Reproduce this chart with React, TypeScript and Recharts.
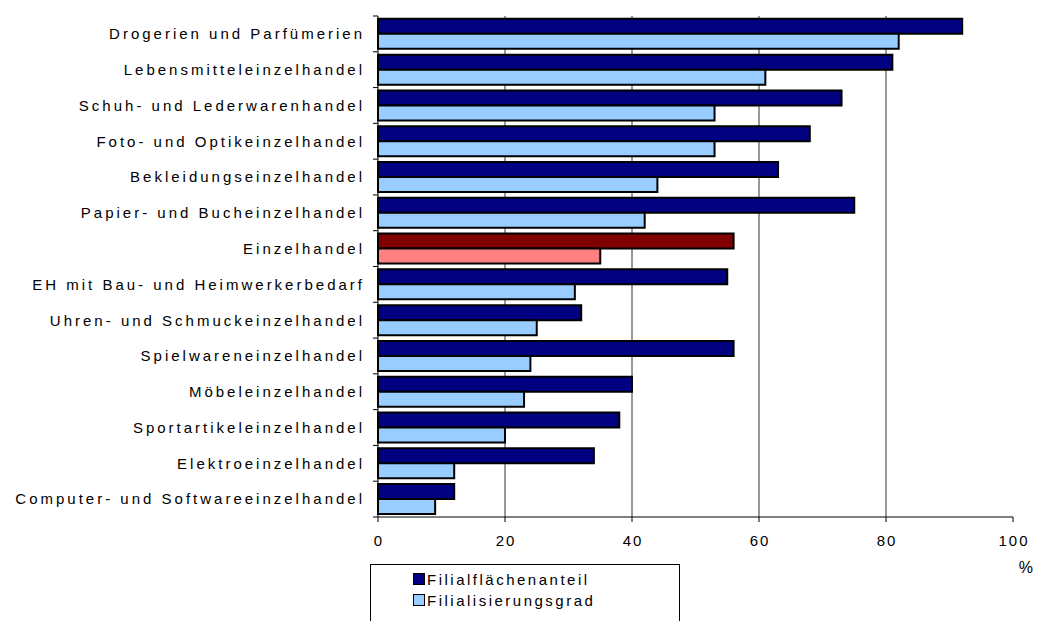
import React from 'react';
import { BarChart, Bar, XAxis, YAxis, CartesianGrid, Legend, Cell } from 'recharts';

const categories = [
  'Drogerien und Parfümerien',
  'Lebensmitteleinzelhandel',
  'Schuh- und Lederwarenhandel',
  'Foto- und Optikeinzelhandel',
  'Bekleidungseinzelhandel',
  'Papier- und Bucheinzelhandel',
  'Einzelhandel',
  'EH mit Bau- und Heimwerkerbedarf',
  'Uhren- und Schmuckeinzelhandel',
  'Spielwareneinzelhandel',
  'Möbeleinzelhandel',
  'Sportartikeleinzelhandel',
  'Elektroeinzelhandel',
  'Computer- und Softwareeinzelhandel',
];

const filialflaechenanteil = [92, 81, 73, 68, 63, 75, 56, 55, 32, 56, 40, 38, 34, 12];
const filialisierungsgrad = [82, 61, 53, 53, 44, 42, 35, 31, 25, 24, 23, 20, 12, 9];

const seriesNames = ['Filialflächenanteil', 'Filialisierungsgrad'];
const highlighted = ['Einzelhandel'];
const xTicks = [0, 20, 40, 60, 80, 100];
const gridTicks = [20, 40, 60, 80];
const unitLabel = '%';

const FONT = '"Liberation Sans", Arial, sans-serif';
const DARK = '#000080';
const LIGHT = '#99CCFF';
const DARK_HL = '#800000';
const LIGHT_HL = '#FF8080';

const rows = categories.map((c, i) => ({
  name: c,
  a: filialflaechenanteil[i],
  b: filialisierungsgrad[i],
}));

const YTick = (props: any) => {
  const { x, y, payload, index } = props;
  const axisX = x + 13;
  const half = payload && typeof payload.offset === 'number' && payload.offset > 0 ? payload.offset : 500 / 28;
  return (
    <g>
      <line x1={axisX - 5} x2={axisX} y1={y - half} y2={y - half} stroke="#000" strokeWidth={1} />
      {index === categories.length - 1 && (
        <line x1={axisX - 5} x2={axisX} y1={y + half} y2={y + half} stroke="#000" strokeWidth={1} />
      )}
      <text
        x={x}
        y={y}
        dy="0.355em"
        textAnchor="end"
        fontSize={15}
        fontFamily={FONT}
        letterSpacing={3}
        fill="#000"
      >
        {payload.value}
      </text>
    </g>
  );
};

const XTick = (props: any) => {
  const { x, y, payload } = props;
  return (
    <text
      x={x + 1}
      y={y}
      dy="0.71em"
      textAnchor="middle"
      fontSize={15}
      fontFamily={FONT}
      letterSpacing={2}
      fill="#000"
    >
      {payload.value}
    </text>
  );
};

const LegendBox = () => (
  <div
    style={{
      position: 'relative',
      width: 310,
      height: 70,
      boxSizing: 'border-box',
      border: '1px solid #000',
      background: '#fff',
      fontFamily: FONT,
      fontSize: 15,
      letterSpacing: 2.5,
      color: '#000',
    }}
  >
    {seriesNames.map((n, i) => (
      <div
        key={n}
        style={{
          position: 'absolute',
          left: 42,
          top: 5 + i * 21,
          height: 18,
          display: 'flex',
          alignItems: 'center',
          whiteSpace: 'nowrap',
        }}
      >
        <span
          style={{
            display: 'inline-block',
            width: 10,
            height: 10,
            background: i === 0 ? DARK : LIGHT,
            border: '1.5px solid #000',
            marginRight: 2,
          }}
        />
        {n}
      </div>
    ))}
  </div>
);

export default function App() {
  return (
    <div style={{ width: 1036, height: 613, overflow: 'hidden', position: 'relative', background: '#fff' }}>
      <style>{'html, body { overflow: hidden; }'}</style>
      <BarChart
        width={1036}
        height={613}
        data={rows}
        layout="vertical"
        margin={{ top: 8, right: 31, bottom: 0, left: 0 }}
        barCategoryGap="8%"
        barGap={0}
      >
        <CartesianGrid horizontal={false} vertical verticalValues={gridTicks} stroke="#333" strokeWidth={1} />
        <XAxis
          type="number"
          domain={[0, 100]}
          ticks={xTicks}
          interval={0}
          tickSize={5}
          tickMargin={13}
          stroke="#000"
          tickLine={{ stroke: '#000' }}
          axisLine={{ stroke: '#000' }}
          height={104}
          tick={<XTick />}
          label={{
            value: unitLabel,
            position: 'insideTopRight',
            dx: 25,
            dy: 40,
            fontSize: 16,
            fontFamily: FONT,
            fill: '#000',
          }}
        />
        <YAxis
          type="category"
          dataKey="name"
          width={370}
          tickSize={5}
          tickMargin={8}
          tickLine={false}
          axisLine={{ stroke: '#000' }}
          interval={0}
          tick={<YTick />}
        />
        <Legend
          layout="horizontal"
          verticalAlign="middle"
          align="center"
          wrapperStyle={{ left: 362, top: 556, width: 310, height: 70 }}
          content={<LegendBox />}
        />
        <Bar dataKey="a" name={seriesNames[0]} fill={DARK} stroke="#000" strokeWidth={2} isAnimationActive={false}>
          {rows.map((r) => (
            <Cell key={r.name} fill={highlighted.includes(r.name) ? DARK_HL : DARK} />
          ))}
        </Bar>
        <Bar dataKey="b" name={seriesNames[1]} fill={LIGHT} stroke="#000" strokeWidth={2} isAnimationActive={false}>
          {rows.map((r) => (
            <Cell key={r.name} fill={highlighted.includes(r.name) ? LIGHT_HL : LIGHT} />
          ))}
        </Bar>
      </BarChart>
    </div>
  );
}
